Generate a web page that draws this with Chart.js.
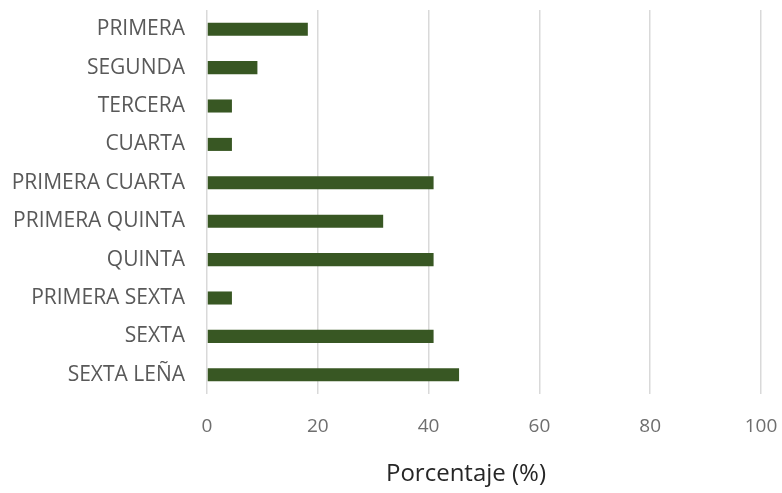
<!DOCTYPE html>
<html>
<head>
<meta charset="utf-8">
<script src="https://cdn.jsdelivr.net/npm/chart.js@4/dist/chart.umd.min.js"></script>
<style>
  html, body { margin: 0; padding: 0; background: #ffffff; }
  #wrap { width: 782px; height: 493px; position: relative; }
</style>
</head>
<body>
<div id="wrap"><canvas id="c" width="782" height="493"></canvas></div>
<script>
// Categories, top to bottom
const categories = [
  'PRIMERA', 'SEGUNDA', 'TERCERA', 'CUARTA', 'PRIMERA CUARTA',
  'PRIMERA QUINTA', 'QUINTA', 'PRIMERA SEXTA', 'SEXTA', 'SEXTA LEÑA'
];
// Percentage per category
const porcentajes = [18.2, 9.1, 4.5, 4.5, 40.9, 31.8, 40.9, 4.5, 40.9, 45.5];
// Value axis
const xMin = 0;
const xMax = 100;
const xStep = 20;
const xTitle = 'Porcentaje (%)';

const FONT = '"Open Sans", "Liberation Sans", sans-serif';

// Axis title under the value axis, set a little left of the plot centre
const axisTitle = {
  id: 'axisTitle',
  afterDraw(chart) {
    const { ctx, chartArea } = chart;
    ctx.save();
    ctx.font = '24px ' + FONT;
    ctx.fillStyle = '#262626';
    ctx.textAlign = 'center';
    ctx.textBaseline = 'middle';
    ctx.fillText(xTitle, (chartArea.left + chartArea.right) / 2 - 18, chart.height - 19);
    ctx.restore();
  }
};

new Chart(document.getElementById('c'), {
  type: 'bar',
  data: {
    labels: categories,
    datasets: [{
      data: porcentajes,
      backgroundColor: '#385723',
      borderWidth: 0,
      barPercentage: 0.34,
      categoryPercentage: 1.0
    }]
  },
  plugins: [axisTitle],
  options: {
    indexAxis: 'y',
    responsive: false,
    animation: false,
    devicePixelRatio: 1,
    layout: { padding: { top: 10, right: 21, bottom: 0, left: 0 } },
    plugins: {
      legend: { display: false },
      tooltip: { enabled: false }
    },
    scales: {
      x: {
        min: xMin,
        max: xMax,
        ticks: {
          stepSize: xStep,
          color: '#6e6e6e',
          padding: 21,
          font: { family: FONT, size: 19 }
        },
        grid: {
          color: '#d9d9d9',
          lineWidth: 1.5,
          drawTicks: false
        },
        border: { display: false },
        afterFit: (s) => {
          s.height = 99;
          s.paddingLeft = 0;
          s.paddingRight = 0;
        }
      },
      y: {
        ticks: {
          color: '#595959',
          padding: 22,
          font: { family: FONT, size: 21 }
        },
        grid: { display: false, drawTicks: false },
        border: { display: false },
        afterFit: (s) => {
          s.width = 207;
          s.paddingTop = 0;
          s.paddingBottom = 0;
        }
      }
    }
  }
});
</script>
</body>
</html>
